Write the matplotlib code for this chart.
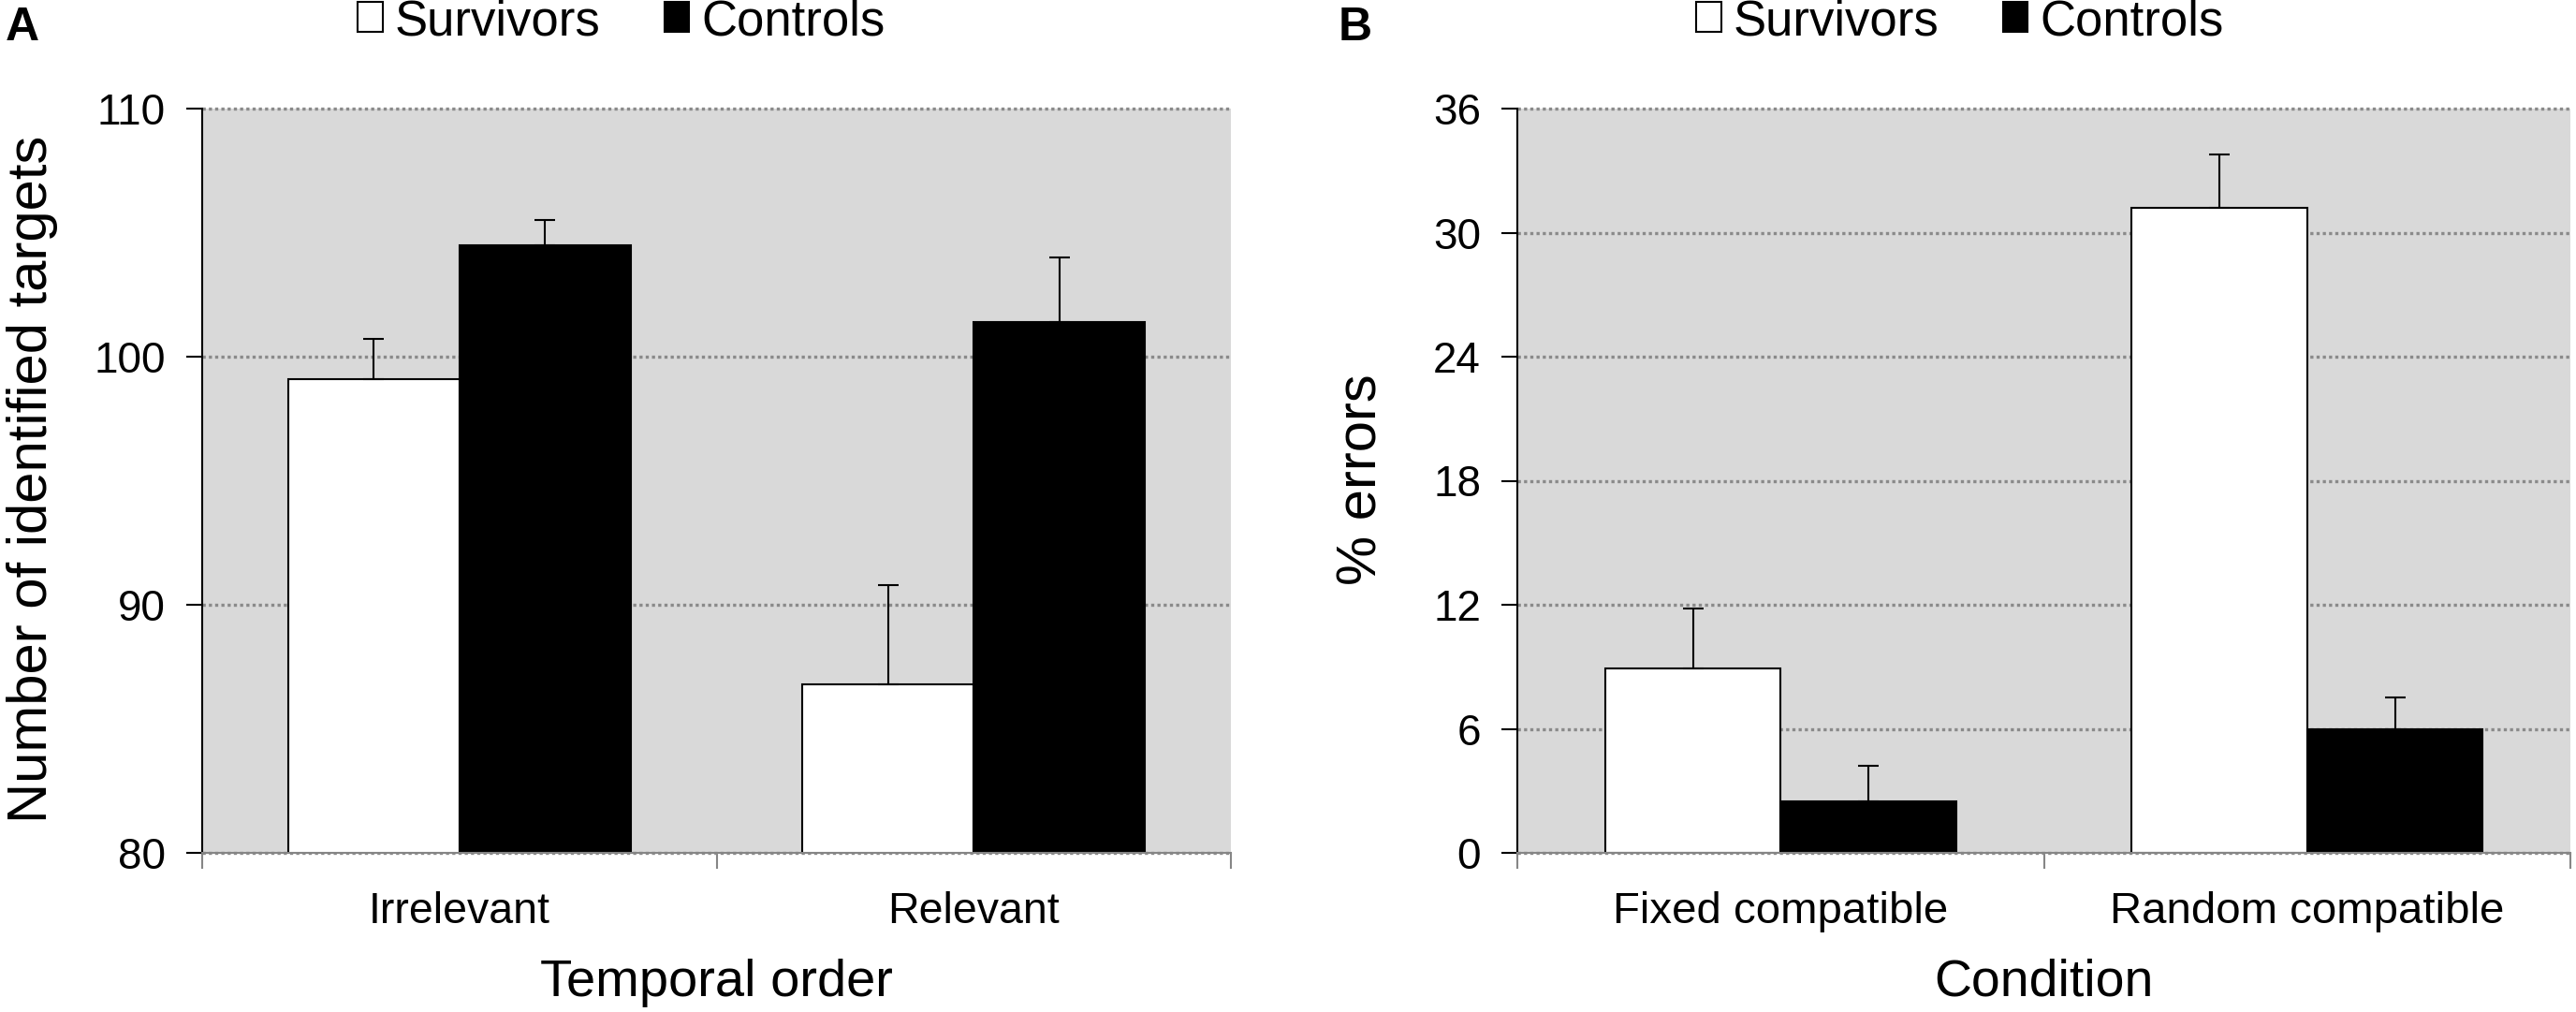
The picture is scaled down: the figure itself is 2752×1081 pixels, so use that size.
import numpy as np
import matplotlib
matplotlib.use('Agg')
import matplotlib.pyplot as plt
from matplotlib.patches import Patch

# data
groups = ['Survivors', 'Controls']

cats_a = ['Irrelevant', 'Relevant']
surv_a = [99.1, 86.8]
surv_a_err = [1.6, 4.0]
ctrl_a = [104.5, 101.4]
ctrl_a_err = [1.0, 2.6]
yticks_a = [80, 90, 100, 110]

cats_b = ['Fixed compatible', 'Random compatible']
surv_b = [8.9, 31.2]
surv_b_err = [2.9, 2.6]
ctrl_b = [2.5, 6.0]
ctrl_b_err = [1.7, 1.5]
yticks_b = [0, 6, 12, 18, 24, 30, 36]

W, H = 2752, 1081
ARIAL = 'Liberation Sans'

fig = plt.figure(figsize=(W / 100, H / 100), dpi=100)


def box(l, r, t, b):
    return [l / W, 1 - b / H, (r - l) / W, (b - t) / H]


def panel(ax, cats, s, se, c, ce, yticks):
    x = np.arange(len(cats))
    w = 1 / 3
    ax.set_facecolor('#d9d9d9')
    ax.bar(x - w / 2, s, w, color='white', edgecolor='black', lw=1.5, zorder=2)
    ax.bar(x + w / 2, c, w, color='black', edgecolor='black', lw=1.5, zorder=2)
    zero = np.zeros(len(cats))
    ax.errorbar(x - w / 2, s, yerr=[zero, se], fmt='none', ecolor='black',
                elinewidth=1.5, capsize=8, capthick=1.5, zorder=3)
    ax.errorbar(x + w / 2, c, yerr=[zero, ce], fmt='none', ecolor='black',
                elinewidth=1.5, capsize=8, capthick=1.5, zorder=3)

    ax.set_xlim(-0.5, len(cats) - 0.5)
    ax.set_ylim(yticks[0], yticks[-1])
    ax.set_yticks(yticks)
    ax.yaxis.grid(True, color='#8a8a8a', linestyle=(0, (1, 1)), lw=2.4, zorder=1)
    ax.set_axisbelow(True)
    for g in ax.get_ygridlines():
        g.set_clip_on(False)

    for sp in ['top', 'right']:
        ax.spines[sp].set_visible(False)
    ax.spines['left'].set_color('black')
    ax.spines['left'].set_linewidth(1.5)
    ax.spines['bottom'].set_color('#868686')
    ax.spines['bottom'].set_linewidth(1.5)

    ax.tick_params(axis='y', direction='out', length=12, width=1.5, pad=16,
                   labelsize=33)
    for t in ax.get_yticklabels():
        t.set_fontfamily(ARIAL)

    # category boundaries get the ticks, names sit in the middle
    ax.set_xticks(np.arange(len(cats) + 1) - 0.5)
    ax.set_xticklabels([])
    ax.tick_params(axis='x', which='major', direction='out', length=12,
                   width=1.5, color='#868686')
    ax.set_xticks(x, minor=True)
    ax.set_xticklabels(cats, minor=True, fontfamily=ARIAL, fontsize=33)
    ax.tick_params(axis='x', which='minor', length=0, pad=(986 - 911) * 0.72)
    for t in ax.get_xticklabels(minor=True):
        t.set_verticalalignment('baseline')


axA = fig.add_axes(box(216, 1315, 116, 911))
panel(axA, cats_a, surv_a, surv_a_err, ctrl_a, ctrl_a_err, yticks_a)
axB = fig.add_axes(box(1621, 2746, 116, 911))
panel(axB, cats_b, surv_b, surv_b_err, ctrl_b, ctrl_b_err, yticks_b)

xlA = fig.text((216 + 1315) / 2 / W, 1 - 1064 / H, 'Temporal order',
               ha='center', va='baseline', fontsize=40, fontfamily=ARIAL)
xlB = fig.text((1621 + 2746) / 2 / W, 1 - 1064 / H, 'Condition',
               ha='center', va='baseline', fontsize=40, fontfamily=ARIAL)

fig.text(35 / W, 1 - 512 / H, 'Number of identified targets', rotation=90,
         ha='center', va='center', fontsize=43, fontfamily=ARIAL)
fig.text(1455 / W, 1 - 512 / H, '% errors', rotation=90,
         ha='center', va='center', fontsize=43, fontfamily=ARIAL)

fig.text(6 / W, 1 - 43 / H, 'A', fontsize=36, fontweight='bold',
         fontfamily=ARIAL, va='baseline')
fig.text(1430 / W, 1 - 43 / H, 'B', fontsize=36, fontweight='bold',
         fontfamily=ARIAL, va='baseline')

handles = [Patch(facecolor='white', edgecolor='black', lw=1.5),
           Patch(facecolor='black', edgecolor='black', lw=1.5)]
for cx in [664, 2094]:
    fig.legend(handles, groups, loc='upper center',
               bbox_to_anchor=(cx / W, 1 + 2 / H), ncol=2, frameon=False,
               prop={'family': ARIAL, 'size': 38}, handlelength=0.5,
               handleheight=0.55, handletextpad=0.25, columnspacing=1.3,
               borderpad=0.0, borderaxespad=0.0)

# scale the labels so their widths match the original
fig.canvas.draw()
rend = fig.canvas.get_renderer()
for ax, ref_label, ref_px in [(axA, 'Irrelevant', 194),
                              (axB, 'Random compatible', 422)]:
    for t in ax.get_xticklabels(minor=True):
        if t.get_text() == ref_label:
            k = ref_px / t.get_window_extent(rend).width
            ax.tick_params(axis='x', which='minor',
                           labelsize=t.get_fontsize() * k)
for t, ref_px in [(xlA, 378), (xlB, 234)]:
    t.set_fontsize(t.get_fontsize() * ref_px / t.get_window_extent(rend).width)

fig.savefig('out.png', dpi=100)
